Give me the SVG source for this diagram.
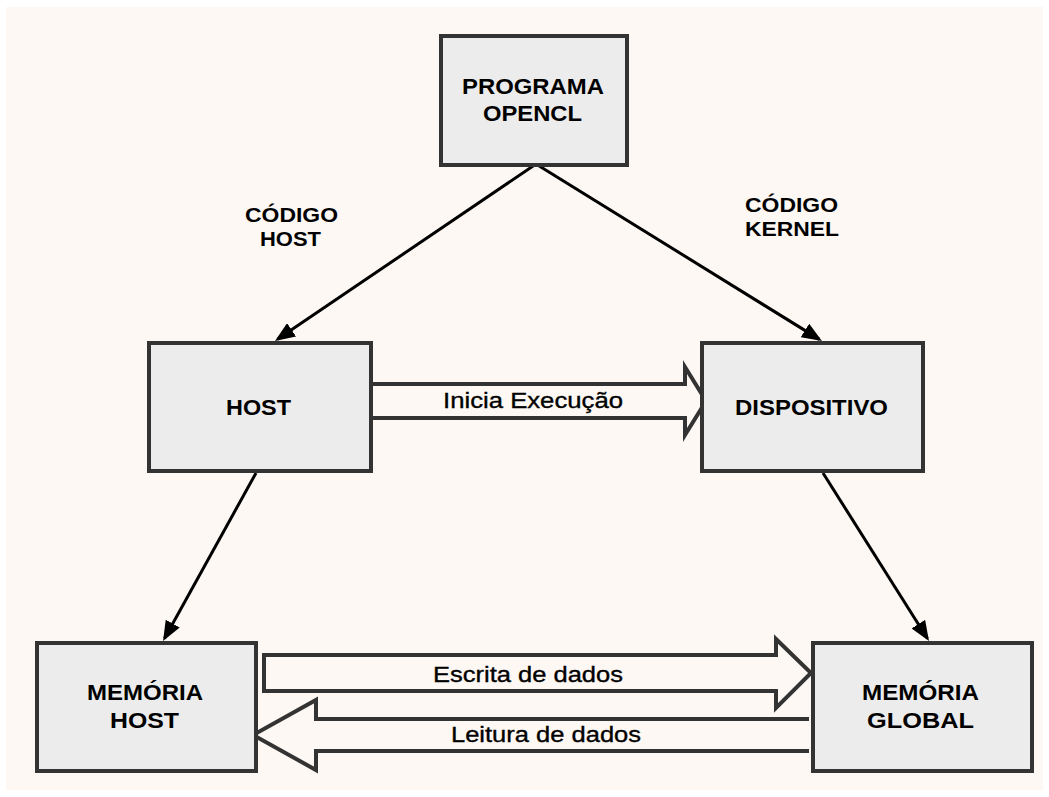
<svg xmlns="http://www.w3.org/2000/svg" width="1049" height="797" viewBox="0 0 1049 797">
  <style>
    .box { fill: #ececec; stroke: #333333; stroke-width: 4; }
    .lbl { font-family: "Liberation Sans", Arial, sans-serif; font-weight: bold; font-size: 22px; fill: #000000; text-anchor: start; }
    .note { font-family: "Liberation Sans", Arial, sans-serif; font-weight: bold; font-size: 20px; fill: #000000; }
    .flow { fill: #fdf8f3; stroke: #333333; stroke-width: 4; stroke-linejoin: miter; }
    .flowtxt { font-family: "Liberation Sans", Arial, sans-serif; font-size: 22px; fill: #000000; stroke: #000000; stroke-width: 0.35; }
    .link { fill: none; stroke: #000000; stroke-width: 3; }
  </style>
  <defs>
    <marker id="head" markerUnits="userSpaceOnUse" markerWidth="22" markerHeight="16" viewBox="0 0 22 16" refX="17" refY="8" orient="auto">
      <path d="M0,0 L20,8 L0,16 Z" fill="#000000"/>
    </marker>
  </defs>

  <!-- canvas -->
  <rect x="0" y="0" width="1049" height="797" fill="#ffffff"/>
  <rect x="6" y="7" width="1037" height="783" fill="#fdf8f3"/>

  <!-- connectors -->
  <g id="connectors">
    <line class="link" x1="536" y1="164" x2="277.5" y2="339.3" marker-end="url(#head)"/>
    <line class="link" x1="536" y1="164" x2="819.4" y2="339.4" marker-end="url(#head)"/>
    <line class="link" x1="256" y1="473" x2="164.5" y2="638.4" marker-end="url(#head)"/>
    <line class="link" x1="823" y1="473" x2="927.4" y2="638.5" marker-end="url(#head)"/>

    <g id="arrow-inicia">
      <path class="flow" d="M373,384 L685,384 L685,367 L706,401 L685,435 L685,418 L373,418"/>
      <text class="flowtxt" x="443" y="408" textLength="180" lengthAdjust="spacingAndGlyphs">Inicia Execução</text>
    </g>
    <g id="arrow-escrita">
      <path class="flow" d="M264,655 L776,655 L776,639 L811,673 L776,708 L776,691 L264,691 Z"/>
      <text class="flowtxt" x="433" y="682" textLength="190" lengthAdjust="spacingAndGlyphs">Escrita de dados</text>
    </g>
    <g id="arrow-leitura">
      <path class="flow" d="M809,719 L316,719 L316,700 L253,735 L316,770 L316,751 L809,751"/>
      <text class="flowtxt" x="451" y="742" textLength="190" lengthAdjust="spacingAndGlyphs">Leitura de dados</text>
    </g>

    <text class="note" x="245" y="222" textLength="93" lengthAdjust="spacingAndGlyphs">CÓDIGO</text>
    <text class="note" x="260" y="246" textLength="61" lengthAdjust="spacingAndGlyphs">HOST</text>
    <text class="note" x="745" y="212" textLength="93" lengthAdjust="spacingAndGlyphs">CÓDIGO</text>
    <text class="note" x="745" y="236" textLength="94" lengthAdjust="spacingAndGlyphs">KERNEL</text>
  </g>

  <!-- nodes -->
  <g id="programa">
    <rect class="box" x="441" y="36" width="186" height="129"/>
    <text class="lbl" x="462" y="94" textLength="142" lengthAdjust="spacingAndGlyphs">PROGRAMA</text>
    <text class="lbl" x="483" y="121" textLength="99" lengthAdjust="spacingAndGlyphs">OPENCL</text>
  </g>
  <g id="host">
    <rect class="box" x="149" y="343" width="222" height="128"/>
    <text class="lbl" x="226" y="415" textLength="65" lengthAdjust="spacingAndGlyphs">HOST</text>
  </g>
  <g id="dispositivo">
    <rect class="box" x="702" y="343" width="221" height="128"/>
    <text class="lbl" x="735" y="415" textLength="153" lengthAdjust="spacingAndGlyphs">DISPOSITIVO</text>
  </g>
  <g id="memoria-host">
    <rect class="box" x="37" y="643" width="219" height="128"/>
    <text class="lbl" x="87" y="700" textLength="116" lengthAdjust="spacingAndGlyphs">MEMÓRIA</text>
    <text class="lbl" x="110" y="728" textLength="69" lengthAdjust="spacingAndGlyphs">HOST</text>
  </g>
  <g id="memoria-global">
    <rect class="box" x="813" y="643" width="219" height="128"/>
    <text class="lbl" x="862" y="700" textLength="117" lengthAdjust="spacingAndGlyphs">MEMÓRIA</text>
    <text class="lbl" x="867" y="728" textLength="107" lengthAdjust="spacingAndGlyphs">GLOBAL</text>
  </g>
</svg>
